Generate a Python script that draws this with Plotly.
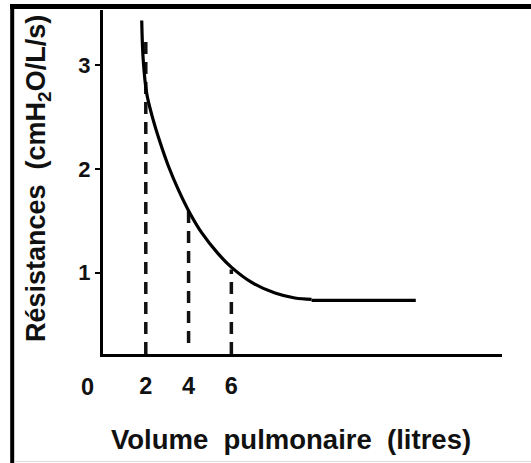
import plotly.graph_objects as go

# ---- data ----
curve_volume = [1.81, 1.88, 2.04, 2.28, 2.66, 3.05, 3.52, 4.07, 4.61, 5.39, 6.01, 6.95, 8.04, 8.97, 9.75]
curve_resistance = [3.43, 3.05, 2.73, 2.52, 2.26, 2.03, 1.80, 1.57, 1.385, 1.18, 1.05, 0.905, 0.803, 0.755, 0.742]
plateau_volume = [9.75, 14.62]
plateau_resistance = [0.731, 0.731]

ref_volumes = [2, 4, 6]
ref_top = [3.26, 1.67, 1.03]
ref_bottom = [0.215, 0.32, 0.215]

x_tick_values = [2, 4, 6]
x_tick_labels = ["2", "4", "6"]
x_origin_label = "0"
y_tick_values = [1, 2, 3]
y_tick_labels = ["1", "2", "3"]

x_title = "Volume\u00a0\u00a0pulmonaire\u00a0\u00a0(litres)"
y_title = "Résistances\u00a0\u00a0(cmH<sub>2</sub>O/L/s)"

X_RANGE = [0, 18.65]
Y_RANGE = [0.215, 3.531]

# ---- layout geometry (pixels) ----
W, H = 531, 463
L, R, T, B = 103, 29, 10, 109
PW, PH = W - L - R, H - T - B


def px_x(px):
    return (px - L) / PW


def px_y(py):
    return (H - B - py) / PH


FONT = "Liberation Sans, Arial, sans-serif"

fig = go.Figure()

# dashed reference lines (bottom -> top)
dx, dy = [], []
for v, b, t in zip(ref_volumes, ref_bottom, ref_top):
    dx += [v, v, None]
    dy += [b, t, None]
fig.add_trace(go.Scatter(x=dx, y=dy, mode="lines",
                         line=dict(color="#111111", width=3.5, dash="12px,8px"),
                         hoverinfo="skip", showlegend=False))

fig.add_trace(go.Scatter(x=curve_volume, y=curve_resistance, mode="lines",
                         line=dict(color="black", width=3.2, shape="spline", smoothing=1.0),
                         showlegend=False))
fig.add_trace(go.Scatter(x=plateau_volume, y=plateau_resistance, mode="lines",
                         line=dict(color="black", width=3.2),
                         showlegend=False))

fig.update_xaxes(range=X_RANGE, showline=True, linewidth=3, linecolor="black",
                 showgrid=False, zeroline=False, ticks="",
                 tickvals=x_tick_values, ticktext=x_tick_labels,
                 ticklabelstandoff=9,
                 tickfont=dict(family=FONT, size=23.5, color="#111", weight="bold"))
fig.update_yaxes(range=Y_RANGE, showline=True, linewidth=3, linecolor="black",
                 showgrid=False, zeroline=False, ticks="outside", ticklen=5,
                 tickwidth=2, tickcolor="black",
                 tickvals=y_tick_values, ticktext=y_tick_labels,
                 tickfont=dict(family=FONT, size=22, color="#111", weight="bold"))

annotations = [
    dict(text=x_origin_label, x=X_RANGE[0], xref="x", y=px_y(386.5), yref="paper",
         xanchor="center", yanchor="middle", xshift=-15.5, showarrow=False,
         font=dict(family=FONT, size=23.5, color="#111", weight="bold")),
    dict(text=x_title, x=px_x(291), xref="paper", y=px_y(439), yref="paper",
         xanchor="center", yanchor="middle", showarrow=False,
         font=dict(family=FONT, size=27.5, color="#111", weight="bold")),
    dict(text=y_title, x=px_x(38), xref="paper", y=px_y(179), yref="paper",
         xanchor="center", yanchor="middle", textangle=-90, showarrow=False,
         font=dict(family=FONT, size=27, color="#111", weight="bold")),
]

shapes = [
    dict(type="line", xref="paper", yref="paper", x0=px_x(10), x1=px_x(531),
         y0=px_y(6.5), y1=px_y(6.5), line=dict(color="black", width=5)),
    dict(type="line", xref="paper", yref="paper", x0=px_x(12.2), x1=px_x(12.2),
         y0=px_y(4), y1=px_y(463), line=dict(color="black", width=4)),
    dict(type="line", xref="paper", yref="paper", x0=px_x(14), x1=px_x(531),
         y0=px_y(461.5), y1=px_y(461.5), line=dict(color="#dcdcdc", width=1)),
]

fig.update_layout(width=W, height=H, autosize=False,
                  margin=dict(l=L, r=R, t=T, b=B),
                  plot_bgcolor="white", paper_bgcolor="white",
                  showlegend=False, annotations=annotations, shapes=shapes)

fig.write_html("out.html", config={"displayModeBar": False},
               post_script="document.body.style.margin='0';")
